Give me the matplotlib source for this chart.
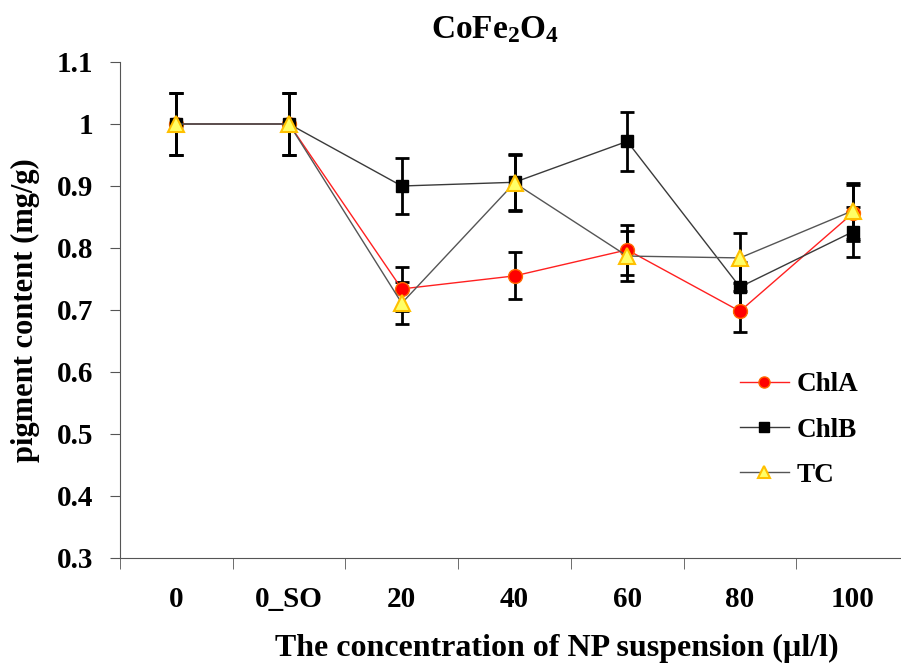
import numpy as np
import matplotlib.pyplot as plt

plt.rcParams['font.family'] = 'Liberation Serif'
plt.rcParams['font.weight'] = 'bold'
plt.rcParams['axes.labelweight'] = 'bold'
plt.rcParams['mathtext.fontset'] = 'custom'
plt.rcParams['mathtext.rm'] = 'Liberation Serif:bold'
plt.rcParams['mathtext.bf'] = 'Liberation Serif:bold'
plt.rcParams['mathtext.default'] = 'bf'

categories = ['0', '0_SO', '20', '40', '60', '80', '100']
chla = [1.0, 1.0, 0.734, 0.755, 0.797, 0.698, 0.856]
chla_err = [0.05, 0.05, 0.035, 0.038, 0.04, 0.033, 0.045]
chlb = [1.0, 1.0, 0.900, 0.906, 0.972, 0.737, 0.826]
chlb_err = [0.05, 0.05, 0.045, 0.045, 0.048, 0.04, 0.04]
tc = [1.0, 1.0, 0.711, 0.905, 0.787, 0.784, 0.860]
tc_err = [0.05, 0.05, 0.034, 0.045, 0.04, 0.04, 0.045]

x = np.arange(len(categories))

fig = plt.figure(figsize=(9.01, 6.65), dpi=100)
ax = fig.add_axes([120/901, 1-558/665, 789/901, 496/665])

# error bars first, then lines + markers on top
for vals, err in [(chla, chla_err), (chlb, chlb_err), (tc, tc_err)]:
    ax.errorbar(x, vals, yerr=err, fmt='none', ecolor='black', elinewidth=2,
                capsize=5, capthick=2, zorder=2)

ax.plot(x, chla, color='#ff2020', lw=1, marker='o', ms=10,
        mfc='#ff0000', mec='#ff6a00', label='ChlA', zorder=3)
ax.plot(x, chlb, color='#3a3a3a', lw=1, marker='s', ms=9,
        mfc='black', mec='black', label='ChlB', zorder=4)
ax.plot(x, tc, color='#555555', lw=1, marker='^', ms=11,
        mfc='#ffff66', mec='#ffc000', mew=1.5, label='TC', zorder=5)

ax.set_xlim(-0.5, 6.5)
ax.set_ylim(0.3, 1.1)
ax.set_yticks(np.arange(0.3, 1.11, 0.1))
ax.set_yticklabels(['0.3', '0.4', '0.5', '0.6', '0.7', '0.8', '0.9', '1', '1.1'])
ax.set_xticks(x)
ax.set_xticklabels(categories)
ax.set_xticks(np.arange(-0.5, 6.6, 1), minor=True)
ax.tick_params(axis='x', which='major', length=0, pad=20, labelsize=21)
ax.tick_params(axis='x', which='minor', length=8, color='#555555')
ax.tick_params(axis='y', length=7, color='#555555', labelsize=21, pad=12)

for s in ['top', 'right']:
    ax.spines[s].set_visible(False)
for s in ['left', 'bottom']:
    ax.spines[s].set_color('#555555')

fig.text(495/901, 1-30/665, 'CoFe$_2$O$_4$', fontsize=24, fontweight='bold',
         ha='center', va='center')
fig.text(557/901, 1-648/665, 'The concentration of NP suspension (µl/l)',
         fontsize=23, fontweight='bold', ha='center', va='center')
ax.set_ylabel('pigment content (mg/g)', fontsize=22, fontweight='bold', labelpad=12)

leg = ax.legend(loc='center left', bbox_to_anchor=(0.755, 0.258), frameon=False,
                fontsize=19.5, labelspacing=0.75, handlelength=1.8,
                handletextpad=0.3, markerscale=0.8)

fig.savefig('out.png', dpi=100)
